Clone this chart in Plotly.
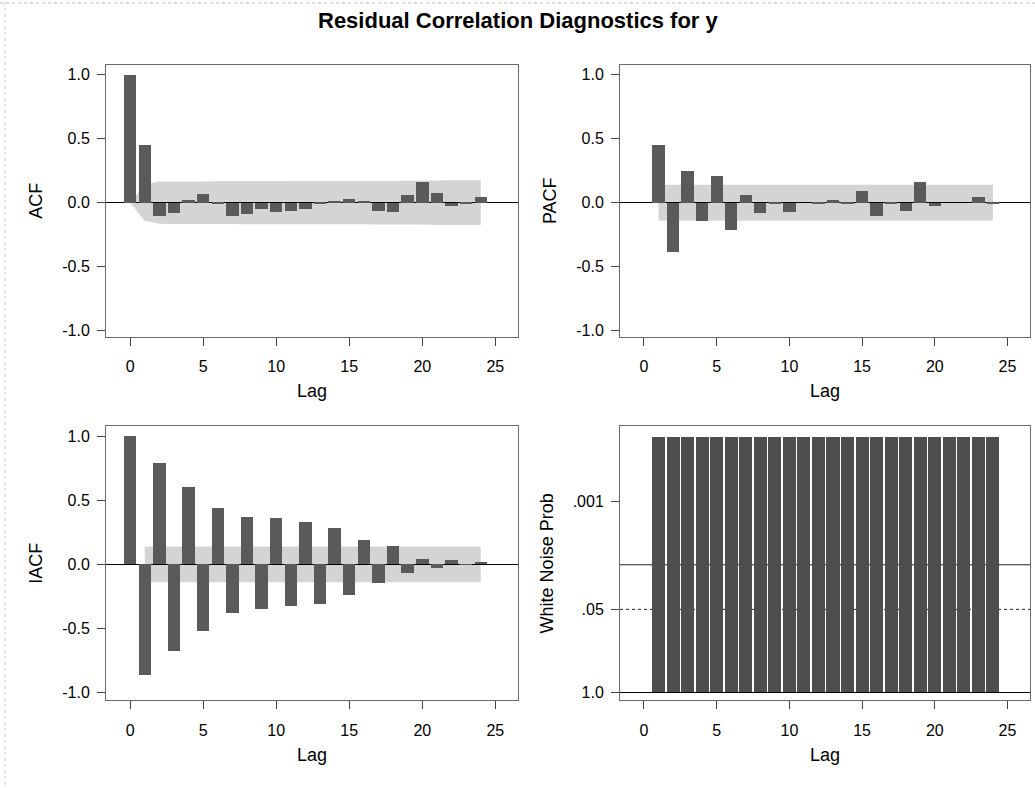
import math
import plotly.graph_objects as go

# ---------------- data ----------------
acf_lags = list(range(0, 25))
acf_vals = [1.0, 0.45, -0.10, -0.08, 0.02, 0.07, -0.01, -0.10, -0.09, -0.05,
            -0.07, -0.06, -0.05, -0.01, 0.01, 0.03, 0.01, -0.06, -0.07, 0.06,
            0.16, 0.08, -0.02, -0.01, 0.05]
acf_band = [0.0, 0.14, 0.165, 0.166, 0.166, 0.166, 0.167, 0.167, 0.168, 0.168,
            0.168, 0.169, 0.169, 0.169, 0.169, 0.169, 0.169, 0.170, 0.170, 0.171,
            0.171, 0.174, 0.175, 0.175, 0.175]

pacf_lags = list(range(1, 25))
pacf_vals = [0.45, -0.38, 0.25, -0.14, 0.21, -0.21, 0.06, -0.08, -0.01, -0.07,
             0.00, -0.01, 0.02, -0.01, 0.09, -0.10, -0.01, -0.06, 0.16, -0.02,
             0.00, 0.00, 0.05, -0.01]
pacf_band = [0.14, 0.14, 0.14, 0.14, 0.14, 0.14, 0.14, 0.14, 0.14, 0.14, 0.14, 0.14,
             0.14, 0.14, 0.14, 0.14, 0.14, 0.14, 0.14, 0.14, 0.14, 0.14, 0.14, 0.14]

iacf_lags = list(range(0, 25))
iacf_vals = [1.0, -0.87, 0.79, -0.68, 0.60, -0.52, 0.44, -0.38, 0.37, -0.35,
             0.36, -0.33, 0.33, -0.31, 0.28, -0.24, 0.19, -0.15, 0.14, -0.07,
             0.04, -0.03, 0.03, -0.005, 0.015]
iacf_band_lags = list(range(1, 25))
iacf_band = [0.14, 0.14, 0.14, 0.14, 0.14, 0.14, 0.14, 0.14, 0.14, 0.14, 0.14, 0.14,
             0.14, 0.14, 0.14, 0.14, 0.14, 0.14, 0.14, 0.14, 0.14, 0.14, 0.14, 0.14]

wn_lags = list(range(1, 25))
wn_prob = [0.0001, 0.0001, 0.0001, 0.0001, 0.0001, 0.0001, 0.0001, 0.0001,
           0.0001, 0.0001, 0.0001, 0.0001, 0.0001, 0.0001, 0.0001, 0.0001,
           0.0001, 0.0001, 0.0001, 0.0001, 0.0001, 0.0001, 0.0001, 0.0001]
wn_tick_probs = [0.001, 0.05, 1.0]
wn_tick_text = [".001", ".05", "1.0"]
wn_ref_probs = [0.01, 0.05]

corr_ticks = [-1.0, -0.5, 0.0, 0.5, 1.0]
corr_tick_text = ["-1.0", "-0.5", "0.0", "0.5", "1.0"]
lag_ticks = [0, 5, 10, 15, 20, 25]
title_text = "Residual Correlation Diagnostics for y"

# ---------------- style ----------------
W, H = 1035, 788
FONT = "Liberation Sans, Arial, Helvetica, sans-serif"
BAR = "#5a5a5a"
BAND = "#d4d4d4"
FRAME = "#6a6a6a"
TICKF = dict(size=16, color="black", family=FONT)
TITLEF = dict(size=18, color="black", family=FONT)


def px_x(p):
    return p / W


def px_y(p):
    return 1 - p / H


dom_x_left = [px_x(106), px_x(518)]
dom_x_right = [px_x(620), px_x(1030)]
dom_y_top = [px_y(338), px_y(65)]
dom_y_bot = [px_y(703), px_y(428)]

fig = go.Figure()

fig.add_trace(go.Bar(x=acf_lags, y=acf_vals, width=0.85, marker=dict(color=BAR, line=dict(width=0)),
                     xaxis="x", yaxis="y", showlegend=False))
fig.add_trace(go.Bar(x=pacf_lags, y=pacf_vals, width=0.85, marker=dict(color=BAR, line=dict(width=0)),
                     xaxis="x2", yaxis="y2", showlegend=False))
fig.add_trace(go.Bar(x=iacf_lags, y=iacf_vals, width=0.85, marker=dict(color=BAR, line=dict(width=0)),
                     xaxis="x3", yaxis="y3", showlegend=False))
wn_height = [-math.log10(p) for p in wn_prob]
fig.add_trace(go.Bar(x=wn_lags, y=wn_height, width=0.9, marker=dict(color="#4e4e4e", line=dict(width=0)),
                     xaxis="x4", yaxis="y4", showlegend=False))


def band_path(lags, se):
    pts = [(l, s) for l, s in zip(lags, se)] + [(l, -s) for l, s in zip(lags[::-1], se[::-1])]
    return "M " + " L ".join(f"{a},{b}" for a, b in pts) + " Z"


shapes = []
for xr, yr, lg, se in [("x", "y", acf_lags, acf_band),
                       ("x2", "y2", pacf_lags, pacf_band),
                       ("x3", "y3", iacf_band_lags, iacf_band)]:
    shapes.append(dict(type="path", path=band_path(lg, se), xref=xr, yref=yr,
                       fillcolor=BAND, line=dict(width=0), layer="below"))

for p, dash in zip(wn_ref_probs, ["solid", "dot"]):
    shapes.append(dict(type="line", xref="x4 domain", yref="y4", x0=0, x1=1,
                       y0=-math.log10(p), y1=-math.log10(p),
                       line=dict(color="#222222", width=1, dash=dash), layer="below"))

# faint scan border lines
shapes.append(dict(type="line", xref="paper", yref="paper", x0=0, x1=1, y0=px_y(3), y1=px_y(3),
                   line=dict(color="#bbbbbb", width=1, dash="dot")))
shapes.append(dict(type="line", xref="paper", yref="paper", x0=px_x(5), x1=px_x(5), y0=0, y1=1,
                   line=dict(color="#cccccc", width=1, dash="dot")))

xcommon = dict(range=[-1.65, 26.55], tickvals=lag_ticks, ticks="outside", ticklen=8,
               tickcolor="#444444", showline=True, mirror=True, linecolor=FRAME, linewidth=1,
               showgrid=False, zeroline=False, tickfont=TICKF, ticklabelstandoff=7,
               title=dict(text="Lag", font=TITLEF, standoff=10))


def ycommon(rng, title, standoff):
    return dict(range=rng, tickvals=corr_ticks, ticktext=corr_tick_text, ticks="outside", ticklen=8,
                tickcolor="#444444", showline=True, mirror=True, linecolor=FRAME, linewidth=1,
                showgrid=False, zeroline=True, zerolinecolor="black", zerolinewidth=1,
                tickfont=TICKF, ticklabelstandoff=4,
                title=dict(text=title, font=TITLEF, standoff=standoff))


fig.update_layout(
    width=W, height=H,
    margin=dict(l=0, r=0, t=0, b=0),
    paper_bgcolor="white", plot_bgcolor="white",
    barmode="overlay", bargap=0,
    font=dict(family=FONT, color="black"),
    xaxis=dict(domain=dom_x_left, anchor="y", **xcommon),
    yaxis=dict(domain=dom_y_top, anchor="x", **ycommon([-1.047, 1.078], "ACF", 14)),
    xaxis2=dict(domain=dom_x_right, anchor="y2", **xcommon),
    yaxis2=dict(domain=dom_y_top, anchor="x2", **ycommon([-1.047, 1.078], "PACF", 14)),
    xaxis3=dict(domain=dom_x_left, anchor="y3", **xcommon),
    yaxis3=dict(domain=dom_y_bot, anchor="x3", **ycommon([-1.062, 1.078], "IACF", 14)),
    xaxis4=dict(domain=dom_x_right, anchor="y4", **xcommon),
    yaxis4=dict(domain=dom_y_bot, anchor="x4", range=[-0.125, 4.17],
                tickvals=[-math.log10(p) for p in wn_tick_probs], ticktext=wn_tick_text,
                ticks="outside", ticklen=8, tickcolor="#444444", showline=True, mirror=True,
                linecolor=FRAME, linewidth=1, showgrid=False, zeroline=True,
                zerolinecolor="black", zerolinewidth=1,
                tickfont=TICKF, ticklabelstandoff=4,
                title=dict(text="White Noise Prob", font=TITLEF, standoff=14)),
    shapes=shapes,
    annotations=[dict(text=f"<b>{title_text}</b>", x=px_x(518), y=px_y(21), xref="paper", yref="paper",
                      xanchor="center", yanchor="middle", showarrow=False,
                      font=dict(size=22, color="black", family=FONT))],
)

fig.write_html("out.html")
